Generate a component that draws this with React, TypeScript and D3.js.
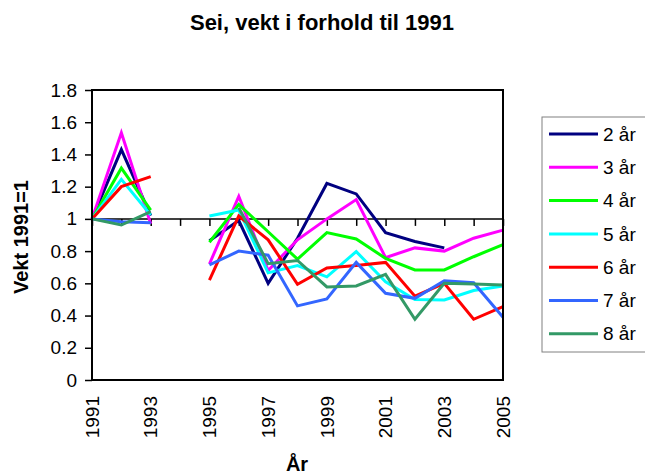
import { useEffect, useRef } from 'react';
import * as d3 from 'd3';

// Years on the category axis
const years = ['1991', '1992', '1993', '1994', '1995', '1996', '1997', '1998', '1999', '2000', '2001', '2002', '2003', '2004', '2005'];
const yTicks = [0, 0.2, 0.4, 0.6, 0.8, 1, 1.2, 1.4, 1.6, 1.8];
const labelYears = ['1991', '1993', '1995', '1997', '1999', '2001', '2003', '2005'];

// Weight relative to 1991, one array per age group (null = no data)
const age2 = [1, 1.43, 1.02, null, 0.865, 0.99, 0.6, 0.88, 1.22, 1.155, 0.915, 0.86, 0.82, null, null];
const age3 = [1, 1.535, 0.97, null, 0.72, 1.14, 0.68, 0.87, 1.0, 1.12, 0.76, 0.82, 0.8, 0.88, 0.93];
const age4 = [1, 1.315, 1.055, null, 0.855, 1.09, 0.92, 0.75, 0.915, 0.875, 0.755, 0.683, 0.683, 0.765, 0.84];
const age5 = [1, 1.245, 1.024, null, 1.018, 1.055, 0.665, 0.71, 0.64, 0.797, 0.61, 0.5, 0.497, 0.555, 0.584];
const age6 = [1, 1.2, 1.262, null, 0.62, 1.018, 0.87, 0.594, 0.695, 0.71, 0.73, 0.52, 0.6, 0.377, 0.455];
const age7 = [1, 0.983, 0.976, null, 0.714, 0.8, 0.775, 0.46, 0.503, 0.73, 0.538, 0.507, 0.616, 0.604, 0.389];
const age8 = [1, 0.962, 1.045, null, null, 1.07, 0.722, 0.742, 0.578, 0.584, 0.656, 0.377, 0.6, 0.596, 0.59];

const seriesNames = ['2 år', '3 år', '4 år', '5 år', '6 år', '7 år', '8 år'];
const seriesValues = [age2, age3, age4, age5, age6, age7, age8];
const seriesColors = ['#000080', '#FF00FF', '#00FF00', '#00FFFF', '#FF0000', '#3366FF', '#339966'];

const FONT = 'Liberation Sans, Arial, sans-serif';

export default function App() {
  const svgRef = useRef<SVGSVGElement>(null);

  useEffect(() => {
    if (!svgRef.current) return;
    const svg = d3.select(svgRef.current);
    svg.selectAll('*').remove();

    const plot = { left: 92, top: 90, right: 503, bottom: 380 };

    const x = d3.scalePoint<string>().domain(years).range([plot.left, plot.right]);
    const y = d3.scaleLinear().domain([0, 1.8]).range([plot.bottom, plot.top]);

    // title
    svg.append('text')
      .attr('x', 322)
      .attr('y', 30)
      .attr('text-anchor', 'middle')
      .style('font-family', FONT)
      .style('font-weight', 'bold')
      .style('font-size', '22px')
      .text('Sei, vekt i forhold til 1991');

    // y axis with ticks
    const yAxis = svg.append('g')
      .attr('transform', `translate(${plot.left},0)`)
      .call(d3.axisLeft(y).tickValues(yTicks).tickSize(7).tickPadding(8).tickFormat(d => String(d)));
    yAxis.select('.domain').remove();
    yAxis.selectAll('.tick line').attr('stroke', '#000').attr('stroke-width', 1.5);
    yAxis.selectAll('.tick text')
      .attr('fill', '#000')
      .style('font-family', FONT)
      .style('font-size', '19px');

    // category axis crossing at 1
    const catAxis = svg.append('g')
      .attr('transform', `translate(0,${y(1)})`)
      .call(d3.axisBottom(x).tickSize(7).tickFormat(() => ''));
    catAxis.select('.domain').remove();
    catAxis.selectAll('.tick line').attr('stroke', '#000').attr('stroke-width', 1.5);
    catAxis.append('line')
      .attr('x1', plot.left)
      .attr('x2', plot.right)
      .attr('stroke', '#000')
      .attr('stroke-width', 1.5);

    // rotated year labels below the plot
    svg.append('g')
      .selectAll('text')
      .data(labelYears)
      .enter()
      .append('text')
      .attr('transform', d => `translate(${x(d)},396) rotate(-90)`)
      .attr('text-anchor', 'end')
      .attr('dy', '0.35em')
      .style('font-family', FONT)
      .style('font-size', '19px')
      .text(d => d);

    // lines
    const line = d3.line<number | null>()
      .defined(d => d !== null)
      .x((_, i) => x(years[i]) as number)
      .y(d => y(d as number));

    svg.append('g')
      .selectAll('path')
      .data(seriesValues)
      .enter()
      .append('path')
      .attr('d', d => line(d))
      .attr('fill', 'none')
      .attr('stroke', (_, i) => seriesColors[i])
      .attr('stroke-width', 3)
      .attr('stroke-linejoin', 'miter');

    // plot border
    svg.append('rect')
      .attr('x', plot.left)
      .attr('y', plot.top)
      .attr('width', plot.right - plot.left)
      .attr('height', plot.bottom - plot.top)
      .attr('fill', 'none')
      .attr('stroke', '#000')
      .attr('stroke-width', 2);

    // axis titles
    svg.append('text')
      .attr('transform', 'translate(28,237) rotate(-90)')
      .attr('text-anchor', 'middle')
      .style('font-family', FONT)
      .style('font-weight', 'bold')
      .style('font-size', '20px')
      .text('Vekt 1991=1');

    svg.append('text')
      .attr('x', 297)
      .attr('y', 471)
      .attr('text-anchor', 'middle')
      .style('font-family', FONT)
      .style('font-weight', 'bold')
      .style('font-size', '20px')
      .text('År');

    // legend
    const legend = svg.append('g').attr('transform', 'translate(542,117)');
    legend.append('rect')
      .attr('width', 120)
      .attr('height', 235)
      .attr('fill', '#fff')
      .attr('stroke', '#808080')
      .attr('stroke-width', 1);
    const rows = legend.selectAll('g.row')
      .data(seriesNames)
      .enter()
      .append('g')
      .attr('class', 'row')
      .attr('transform', (_, i) => `translate(0,${17 + i * 33.3})`);
    rows.append('line')
      .attr('x1', 7)
      .attr('x2', 56)
      .attr('stroke', (_, i) => seriesColors[i])
      .attr('stroke-width', 3);
    rows.append('text')
      .attr('x', 61)
      .attr('dy', '0.35em')
      .style('font-family', FONT)
      .style('font-size', '19px')
      .text(d => d);
  }, []);

  return (
    <svg
      ref={svgRef}
      width={645}
      height={475}
      style={{ position: 'absolute', left: 0, top: 0, background: '#fff' }}
    />
  );
}
